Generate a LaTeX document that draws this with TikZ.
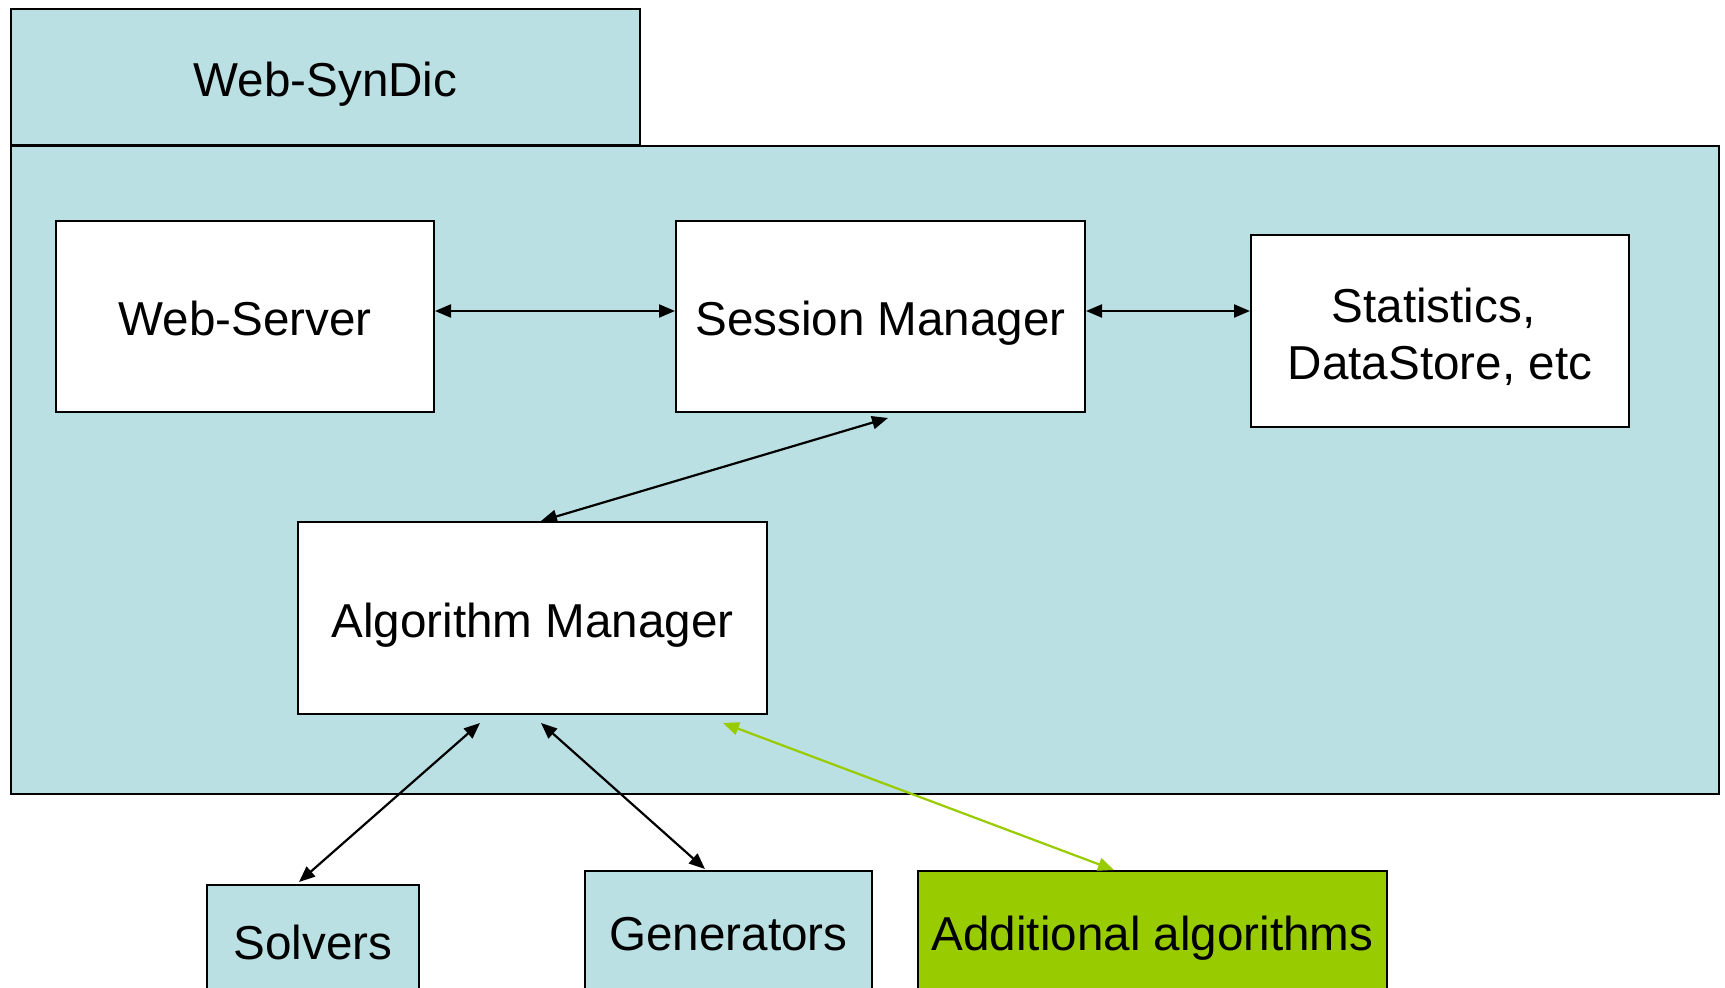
\documentclass[tikz,border=0pt]{standalone}
\usepackage{fontspec}
\setmainfont{Liberation Sans}
\usetikzlibrary{arrows.meta,calc}
\definecolor{lb}{RGB}{187,224,227}
\definecolor{lg}{RGB}{153,204,0}
\begin{document}
\begin{tikzpicture}[x=0.5pt,y=-0.5pt,
  box/.style={draw=black,line width=1pt,inner sep=0pt,align=center,anchor=north west,
    font=\fontsize{23.8}{28.5}\selectfont},
  one/.style={text height=24.5pt,text depth=5pt},
  tip/.tip={Triangle[length=8pt,width=6.5pt]},
  conn/.style={tip-tip,line width=1.1pt,draw=black},
  gconn/.style={tip-tip,line width=1.1pt,draw=lg}]
\useasboundingbox (0,0) rectangle (1725,988);
\fill[white] (0,0) rectangle (1725,988);
\node[box,one,fill=lb,minimum width=314.5pt,minimum height=68pt] (tab) at (10,8) {Web-SynDic};
\node[box,fill=lb,minimum width=854pt,minimum height=324pt] (frame) at (10,145) {};
\node[box,one,fill=white,minimum width=189pt,minimum height=95.5pt] (ws) at (55,220) {Web-Server};
\node[box,one,fill=white,minimum width=204.5pt,minimum height=95.5pt] (sm) at (675,220) {Session Manager};
\node[box,fill=white,minimum width=189pt,minimum height=96pt] (st) at (1250,234)
  {\raisebox{0pt}[\height][\dimexpr\depth-9pt\relax]{\begin{tabular}{@{}c@{}}Statistics,\kern6.6pt\\DataStore, etc\end{tabular}}};
\node[box,one,fill=white,minimum width=234.5pt,minimum height=96pt] (am) at (297,521) {Algorithm Manager};
\node[box,one,fill=lb,minimum width=106pt,minimum height=54.7pt] (so) at (206,884) {Solvers};
\node[box,one,fill=lb,minimum width=143.5pt,minimum height=59.5pt] (ge) at (584,870) {Generators};
\node[box,one,fill=lg,minimum width=234.5pt,minimum height=59.5pt] (ad) at (917,870) {Additional algorithms};
\draw[conn] ($(ws.east)+(0,-5.5)$) -- ($(sm.west)+(0,-5.5)$);
\draw[conn] ($(sm.east)+(0,-5.5)$) -- ($(st.west)+(0,-20)$);
\draw[conn] ($(sm.south)+(7.5,5)$) -- ($(am.north)+(8.5,0)$);
\draw[conn] ($(am.south)+(-52.5,8)$) -- ($(so.north)+(-14,-2)$);
\draw[conn] ($(am.south)+(8.5,8)$) -- ($(ge.north)+(-23.5,-1)$);
\draw[gconn] ($(am.south)+(190.5,8)$) -- ($(ad.north)+(-38.5,0)$);
\end{tikzpicture}
\end{document}
